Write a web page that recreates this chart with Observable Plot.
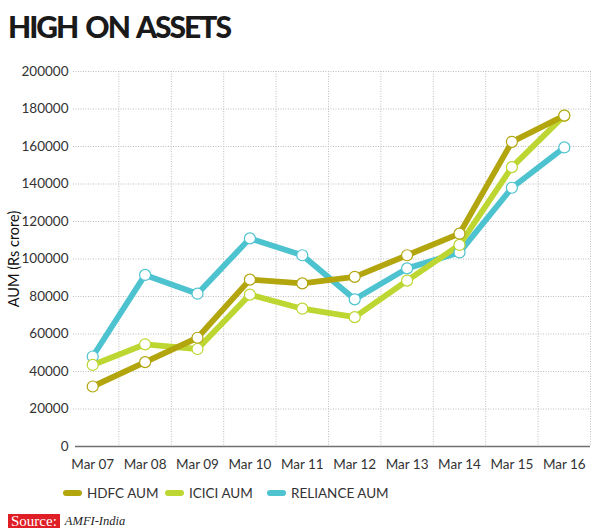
<!DOCTYPE html>
<html>
<head>
<meta charset="utf-8">
<script src="https://cdn.jsdelivr.net/npm/d3@7"></script>
<script src="https://cdn.jsdelivr.net/npm/@observablehq/plot@0.6"></script>
<style>
  body { margin: 0; background: #fff; width: 600px; font-family: Lato, "Open Sans", sans-serif; }
  #title { height: 56px; box-sizing: border-box; padding: 8px 0 0 8px; font-family: Lato, sans-serif; font-weight: 900; font-size: 30px; color: #1a1a1a; letter-spacing: -2px; word-spacing: 3px; line-height: 36px; }
  #legend { height: 14px; display: flex; align-items: center; padding-left: 63px; font-size: 13.5px; color: #333; }
  .item { width: 102px; flex-shrink: 0; display: flex; align-items: center; white-space: nowrap; }
  .sw { width: 19px; height: 6px; flex-shrink: 0; border-radius: 3px; margin-right: 5px; }
  #source { display: flex; align-items: center; padding-left: 8px; height: 14px; margin-top: 14px; }
  #source .box { background: #e01e26; color: #fff; font-family: "Liberation Serif", serif; font-size: 15px; line-height: 14px; padding: 0 3px; }
  #source .txt { font-family: "Liberation Serif", serif; font-style: italic; font-size: 12.5px; color: #222; margin-left: 5px; }
</style>
</head>
<body>
<div id="title">HIGH ON ASSETS</div>
<div id="chart"></div>
<div id="legend"></div>
<div id="source"><span class="box">Source:</span><span class="txt">AMFI-India</span></div>
<script>
const labels = ["Mar 07","Mar 08","Mar 09","Mar 10","Mar 11","Mar 12","Mar 13","Mar 14","Mar 15","Mar 16"];
const hdfc = [32000, 45000, 58000, 89000, 87000, 90500, 102000, 113500, 162500, 176500];
const icici = [43500, 54500, 52000, 81000, 73500, 69000, 88500, 107500, 149000, 176500];
const reliance = [48000, 91500, 81500, 111000, 102000, 78500, 95000, 103500, 138000, 159500];
const seriesNames = ["HDFC AUM", "ICICI AUM", "RELIANCE AUM"];
const seriesColors = ["#b2a50e", "#bdd631", "#4ec3d0"];
const yTicks = [0, 20000, 40000, 60000, 80000, 100000, 120000, 140000, 160000, 180000, 200000];

const seriesValues = [hdfc, icici, reliance];
const rows = [];
seriesNames.forEach((s, k) => seriesValues[k].forEach((v, i) => rows.push({series: s, i, value: v})));
const drawOrder = ["RELIANCE AUM", "ICICI AUM", "HDFC AUM"];
const gridX = labels.slice(1).map((_, i) => i + 0.5).concat([labels.length - 0.5]);

const plot = Plot.plot({
  width: 600,
  height: 430,
  marginTop: 15,
  marginBottom: 40,
  marginLeft: 66,
  marginRight: 10,
  style: {fontFamily: "Lato, sans-serif", fontSize: "13.5px", color: "#333", background: "#fff"},
  x: {domain: [-0.5, labels.length - 0.5]},
  y: {domain: [0, 200000]},
  color: {domain: seriesNames, range: seriesColors},
  marks: [
    Plot.ruleY(yTicks.slice(1), {y: d => d, stroke: "#bdbdbd", strokeWidth: 1, strokeDasharray: "1,1.5", insetLeft: 7}),
    Plot.ruleX(gridX, {x: d => d, stroke: "#bdbdbd", strokeWidth: 1, strokeDasharray: "1,1.5"}),
    Plot.ruleY([0], {stroke: "#707070", strokeWidth: 1.5, insetLeft: 9}),
    Plot.axisY({ticks: yTicks, tickSize: 0, tickPadding: 0, dx: 2, tickFormat: d => String(d), fontSize: 13.5, label: "AUM (Rs crore)", labelAnchor: "center", labelOffset: 58, labelArrow: "none"}),
    Plot.axisX({ticks: d3.range(labels.length), tickSize: 0, tickPadding: 13, tickFormat: i => labels[i], fontSize: 13.5, label: null}),
    ...drawOrder.map(s => Plot.line(rows.filter(r => r.series === s), {x: "i", y: "value", stroke: "series", strokeWidth: 5.8, strokeLinejoin: "round", strokeLinecap: "round"})),
    ...drawOrder.map(s => Plot.dot(rows.filter(r => r.series === s), {x: "i", y: "value", stroke: "series", fill: "#fff", r: 5.5, strokeWidth: 1.2}))
  ]
});
document.getElementById("chart").appendChild(plot);
plot.querySelectorAll("[aria-label='y-axis label'] text, [aria-label='y-axis label']").forEach(t => { t.setAttribute("fill", "#111"); t.setAttribute("font-size", "14.5"); });

const legend = document.getElementById("legend");
seriesNames.forEach((s, k) => {
  const it = document.createElement("div");
  it.className = "item";
  it.innerHTML = `<span class="sw" style="background:${seriesColors[k]}"></span><span>${s}</span>`;
  legend.appendChild(it);
});
</script>
</body>
</html>
